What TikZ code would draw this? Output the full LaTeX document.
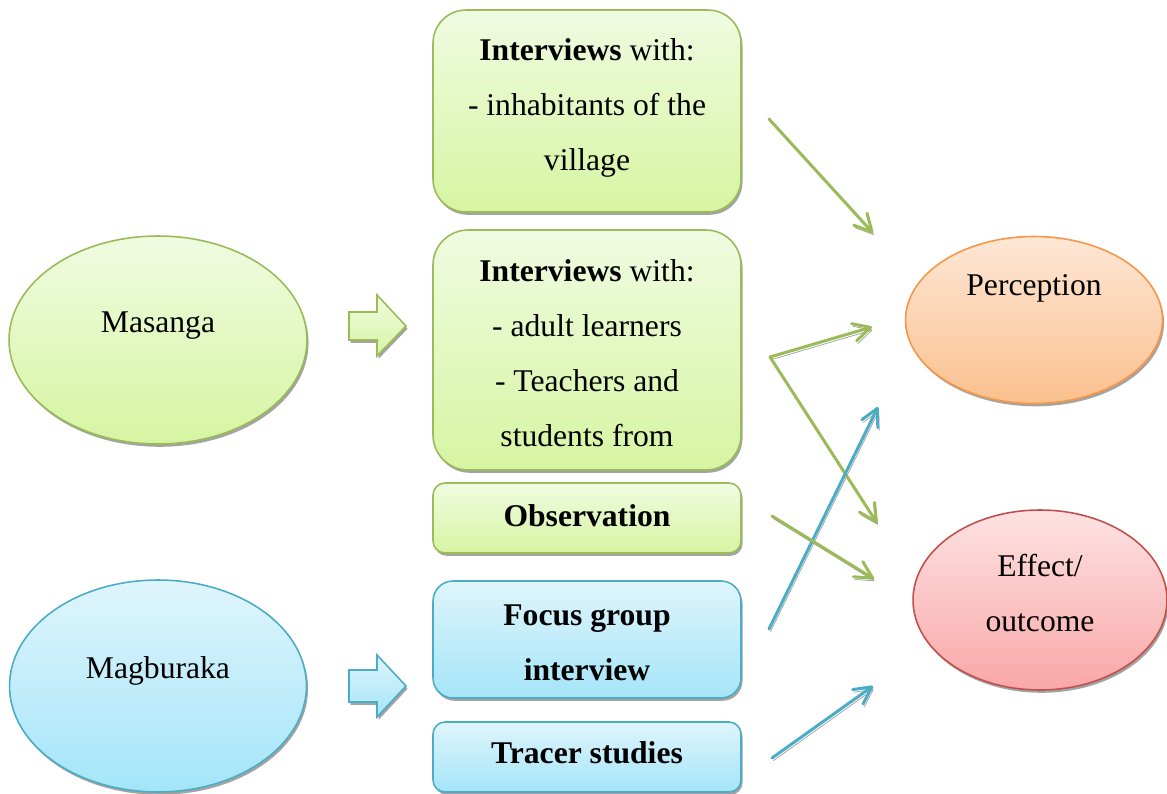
\documentclass[tikz,border=0pt]{standalone}
\usepackage{fontspec}
\setmainfont{Liberation Serif}
\usetikzlibrary{shapes.geometric,arrows.meta,shadows}

\definecolor{grnedge}{HTML}{9BBB59}
\definecolor{grntop}{HTML}{F0FBE1}
\definecolor{grnbot}{HTML}{D6F5A2}
\definecolor{bluedge}{HTML}{4BACC6}
\definecolor{blutop}{HTML}{DFF5FC}
\definecolor{blubot}{HTML}{A4E5F8}
\definecolor{orgedge}{HTML}{F79646}
\definecolor{orgtop}{HTML}{FDE7D6}
\definecolor{orgbot}{HTML}{FBC08E}
\definecolor{rededge}{HTML}{C0504D}
\definecolor{redtop}{HTML}{FDE2E2}
\definecolor{redbot}{HTML}{F9A7A7}
\definecolor{arrgreen}{HTML}{9BBB59}
\definecolor{arrblue}{HTML}{4BACC6}

\tikzset{
  shade/.style={drop shadow={shadow xshift=0.9pt,shadow yshift=-1.6pt,fill=black!45,opacity=0.8}},
  greenfill/.style={draw=grnedge,line width=0.9pt,top color=grntop,bottom color=grnbot,shade},
  bluefill/.style={draw=bluedge,line width=0.9pt,top color=blutop,bottom color=blubot,shade},
  orangefill/.style={draw=orgedge,line width=0.9pt,top color=orgtop,bottom color=orgbot,shade},
  redfill/.style={draw=rededge,line width=0.9pt,top color=redtop,bottom color=redbot,shade},
  site/.style={ellipse,inner sep=0pt},
  stepbox/.style={rectangle,inner sep=0pt,minimum width=6.16cm},
  txt/.style={align=center,inner sep=0pt,font=\fontsize{18}{31.3}\selectfont},
  link/.style={line width=1.7pt,line cap=round,
    -{Straight Barb[angle=55:11pt,line cap=round,line join=round]},
    preaction={draw=black!38,transform canvas={xshift=0.8pt,yshift=-1.5pt}}},
}

\begin{document}
\begin{tikzpicture}[x=0.02cm,y=-0.02cm]
\useasboundingbox[fill=white] (0,0) rectangle (1167,794);

% locations
\node[site,greenfill,minimum width=5.96cm,minimum height=4.16cm] (masanga) at (158,340) {};
\node[txt] (masangaT) at (158,326) {Masanga};
\node[site,bluefill,minimum width=5.94cm,minimum height=4.24cm] (magburaka) at (158,686) {};
\node[txt] (magburakaT) at (158,671) {Magburaka};

% block arrows
\path[greenfill] (349,312) -- (377,312) -- (377,295) -- (406,326) -- (377,356) -- (377,340) -- (349,340) -- cycle;
\path[bluefill] (349,670) -- (377,670) -- (377,655) -- (406,686) -- (377,717) -- (377,702) -- (349,702) -- cycle;

% methods
\node[stepbox,greenfill,minimum height=4.04cm,rounded corners=0.66cm] (b1) at (587,111) {};
\node[txt] (b1T) at (587,107.5) {\textbf{Interviews} with:\\- inhabitants of the\\village};
\node[stepbox,greenfill,minimum height=4.8cm,rounded corners=0.7cm] (b2) at (587,350) {};
\node[txt] (b2T) at (587,353.5) {\textbf{Interviews} with:\\- adult learners\\- Teachers and\\students from};
\node[stepbox,greenfill,minimum height=1.4cm,rounded corners=0.24cm] (b3) at (587,518) {};
\node[txt] (b3T) at (587,516) {\textbf{Observation}};
\node[stepbox,bluefill,minimum height=2.34cm,rounded corners=0.4cm] (b4) at (587,639.5) {};
\node[txt] (b4T) at (587,643) {\textbf{Focus group}\\\textbf{interview}};
\node[stepbox,bluefill,minimum height=1.4cm,rounded corners=0.24cm] (b5) at (587,757) {};
\node[txt] (b5T) at (587,753) {\textbf{Tracer studies}};

% outcomes
\node[site,orangefill,minimum width=5.14cm,minimum height=3.34cm] (perc) at (1034,320) {};
\node[txt] (percT) at (1034,288) {Perception};
\node[site,redfill,minimum width=5.08cm,minimum height=3.6cm] (eff) at (1040,600) {};
\node[txt] (effT) at (1040,593) {Effect/\\outcome};

% connector ends
\coordinate (s1) at (769,119);
\coordinate (e1) at (873,233);
\coordinate (s2) at (770,357);
\coordinate (e2) at (872,327);
\coordinate (e3) at (877,523);
\coordinate (s4) at (769,629);
\coordinate (e4) at (878,407);
\coordinate (s5) at (772,516);
\coordinate (e5) at (874,579);
\coordinate (s6) at (772,758);
\coordinate (e6) at (873,686);

\draw[link,draw=arrgreen] (s1) -- (e1);
\draw[link,draw=arrgreen] (s2) -- (e2);
\draw[link,draw=arrgreen] (s2) -- (e3);
\draw[link,draw=arrblue] (s4) -- (e4);
\draw[link,draw=arrgreen] (s5) -- (e5);
\draw[link,draw=arrblue] (s6) -- (e6);
\end{tikzpicture}
\end{document}
